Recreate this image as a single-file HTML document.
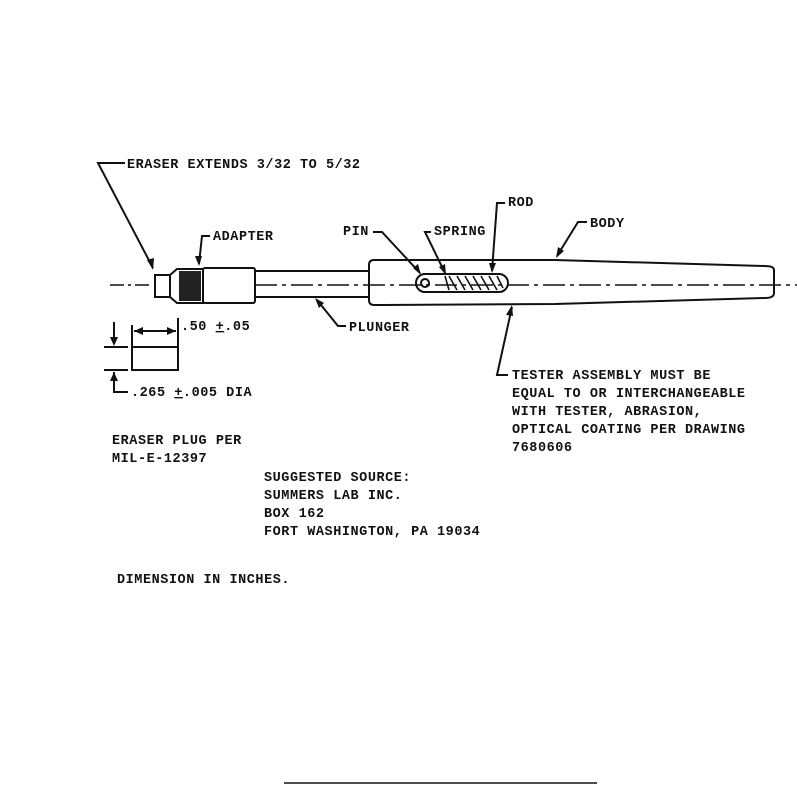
<!DOCTYPE html>
<html><head><style>
html,body{margin:0;padding:0;background:#fff;}
svg{display:block}
text{font-family:"Liberation Mono",monospace;font-weight:bold;font-size:13.5px;fill:#111;letter-spacing:0.55px}
</style></head><body>
<svg width="797" height="786" viewBox="0 0 797 786" xmlns="http://www.w3.org/2000/svg">
<g stroke="#111" fill="none" stroke-width="2">
<line x1="110" y1="285" x2="150" y2="285" stroke-dasharray="14,4,3,4" stroke-width="1.5"/>
<line x1="255" y1="285" x2="797" y2="285" stroke-dasharray="22,5,4,5" stroke-width="1.5"/>
<rect x="155" y="275" width="15" height="22"/>
<path d="M170 275 L177 269 L203 269 L203 303 L177 303 L170 297"/>
<rect x="179" y="271" width="22" height="30" fill="#222" stroke="none"/>
<rect x="203" y="268" width="52" height="35" rx="2"/>
<line x1="255" y1="271" x2="369" y2="271"/>
<line x1="255" y1="297" x2="369" y2="297"/>
<path d="M374 260 L555 260 L765 266 Q774 266 774 270 L774 293 Q774 298 765 298 L555 304 L374 305 Q369 305 369 300 L369 265 Q369 260 374 260 Z"/>
<rect x="416" y="274" width="92" height="18" rx="9"/>
<circle cx="425" cy="283" r="4"/>
<path d="M445 276 l4 14 M449 276 l8 14 M457 276 l8 14 M465 276 l8 14 M473 276 l8 14 M481 276 l8 14 M489 276 l8 14 M497 276 l6 12" stroke-width="1.6"/>
<path d="M125 163 L98 163 L153 268"/>
<path d="M210 236 L202 236 L199 264"/>
<path d="M373 232 L382 232 L420 273"/>
<path d="M431 232 L425 232 L445 273"/>
<path d="M505 203 L497 203 L492 271"/>
<path d="M587 222 L578 222 L557 256"/>
<path d="M346 326 L338 326 L317 300"/>
<path d="M508 375 L497 375 L512 307"/>
<rect x="132" y="347" width="46" height="23"/>
<line x1="132" y1="325" x2="132" y2="347"/>
<line x1="178" y1="318" x2="178" y2="347"/>
<line x1="134" y1="331" x2="176" y2="331"/>
<line x1="104" y1="347" x2="128" y2="347"/>
<line x1="104" y1="370" x2="128" y2="370"/>
<line x1="114" y1="322" x2="114" y2="344"/>
<path d="M114 372 L114 392 L128 392"/>
<line x1="284" y1="783" x2="597" y2="783" stroke-width="1.6"/>
</g>
<g fill="#111">
<path d="M153 270 l-6 -10 l7 -2 z"/>
<path d="M199 266 l-4 -10 l7 0 z"/>
<path d="M421 275 l-8 -7 l5 -4 z"/>
<path d="M446 275 l-7 -8 l6 -3 z"/>
<path d="M492 273 l-3 -10 l7 0 z"/>
<path d="M556 258 l2 -11 l6 4 z"/>
<path d="M315 298 l9 5 l-5 5 z"/>
<path d="M512 305 l1 11 l-7 -1 z"/>
<path d="M134 331 l9 -4 l0 8 z"/>
<path d="M176 331 l-9 -4 l0 8 z"/>
<path d="M114 346 l-4 -9 l8 0 z"/>
<path d="M114 372 l-4 9 l8 0 z"/>
</g>
<text x="127" y="168">ERASER EXTENDS 3/32 TO 5/32</text>
<text x="213" y="240">ADAPTER</text>
<text x="343" y="235">PIN</text>
<text x="434" y="235">SPRING</text>
<text x="508" y="206">ROD</text>
<text x="590" y="227">BODY</text>
<text x="181" y="330">.50 <tspan text-decoration="underline">+</tspan>.05</text>
<text x="349" y="331">PLUNGER</text>
<text x="131" y="396">.265 <tspan text-decoration="underline">+</tspan>.005 DIA</text>
<text x="512" y="379">TESTER ASSEMBLY MUST BE</text>
<text x="512" y="397">EQUAL TO OR INTERCHANGEABLE</text>
<text x="512" y="415">WITH TESTER, ABRASION,</text>
<text x="512" y="433">OPTICAL COATING PER DRAWING</text>
<text x="512" y="451">7680606</text>
<text x="112" y="444">ERASER PLUG PER</text>
<text x="112" y="462">MIL-E-12397</text>
<text x="264" y="481">SUGGESTED SOURCE:</text>
<text x="264" y="499">SUMMERS LAB INC.</text>
<text x="264" y="517">BOX 162</text>
<text x="264" y="535">FORT WASHINGTON, PA  19034</text>
<text x="117" y="583">DIMENSION IN INCHES.</text>
</svg>
</body></html>
